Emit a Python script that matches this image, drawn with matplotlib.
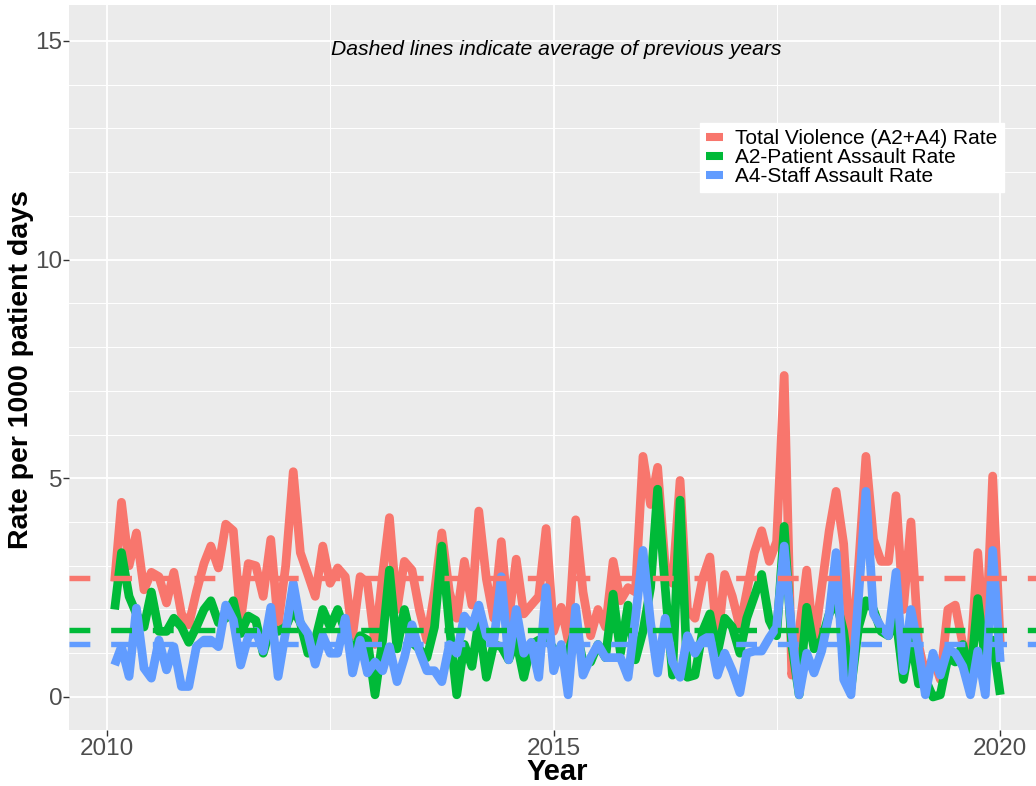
import numpy as np
import pandas as pd
import matplotlib
matplotlib.use("Agg")
import matplotlib.pyplot as plt
from matplotlib.lines import Line2D

plt.rcParams['font.family'] = ['Liberation Sans', 'DejaVu Sans']
plt.rcParams['lines.scale_dashes'] = False

# monthly reporting periods, Jan 2010 .. Dec 2019 (month ends)
dates = pd.date_range('2010-01-31', periods=120, freq='ME')
year_frac = dates.year + dates.dayofyear / (365 + dates.is_leap_year)

total_rate = [
    2.64, 4.45, 3.0, 3.75, 2.45, 2.85, 2.75, 2.15, 2.85, 1.9,
    1.65, 2.4, 3.05, 3.45, 2.95, 3.95, 3.8, 1.75, 3.05, 3.0,
    2.3, 3.6, 1.65, 3.0, 5.15, 3.3, 2.8, 2.3, 3.45, 2.6,
    2.95, 2.75, 1.4, 2.75, 2.6, 1.2, 2.8, 4.1, 2.0, 3.1,
    2.9, 2.0, 1.3, 2.4, 3.75, 2.4, 1.8, 3.1, 2.1, 4.25,
    2.7, 1.8, 3.55, 1.75, 3.15, 1.9, 2.1, 2.3, 3.85, 1.5,
    2.05, 1.3, 4.05, 2.4, 1.4, 2.0, 1.6, 3.1, 2.2, 2.5,
    2.4, 5.5, 4.4, 5.25, 3.0, 2.6, 4.95, 2.0, 1.8, 2.7,
    3.2, 1.2, 2.8, 2.3, 1.6, 2.4, 3.3, 3.8, 3.1, 3.55,
    7.35, 0.5, 1.5, 2.9, 1.2, 2.5, 3.8, 4.7, 3.5, 0.8,
    3.0, 5.5, 3.6, 3.1, 3.1, 4.6, 2.0, 4.0, 1.2, 0.5,
    0.9, 0.4, 2.0, 2.1, 1.2, 0.9, 3.3, 1.0, 5.05, 1.2,
]
patient_rate = [
    2.0, 3.3, 2.3, 1.9, 1.6, 2.4, 1.5, 1.5, 1.8, 1.6,
    1.25, 1.6, 2.0, 2.2, 1.7, 1.8, 2.2, 1.45, 1.85, 1.75,
    1.0, 1.6, 1.5, 1.6, 2.0, 1.7, 1.0, 1.3, 2.0, 1.6,
    2.0, 1.5, 1.0, 1.4, 1.3, 0.05, 1.3, 2.9, 1.1, 2.0,
    1.25, 1.1, 0.9, 1.6, 3.45, 1.6, 0.05, 1.2, 0.7, 1.75,
    0.45, 1.2, 1.15, 0.85, 1.3, 0.45, 1.2, 1.3, 1.35, 1.1,
    0.9, 1.0, 1.6, 0.8, 0.8, 1.2, 0.9, 2.35, 1.0, 2.1,
    0.85, 1.5, 2.5, 4.75, 2.5, 0.5, 4.5, 0.45, 0.5, 1.5,
    1.9, 1.0, 1.8, 1.6, 1.0, 1.8, 2.3, 2.8, 1.75, 1.4,
    3.9, 1.2, 0.05, 2.05, 1.1, 1.3, 1.9, 2.2, 1.5, 0.2,
    1.6, 2.2, 2.0, 1.5, 1.4, 1.8, 0.4, 1.4, 0.3, 0.4,
    0.0, 0.05, 0.9, 0.8, 1.2, 0.4, 2.25, 0.8, 1.3, 0.05,
]
staff_rate = [
    0.73, 1.15, 0.47, 2.03, 0.66, 0.43, 1.3, 0.62, 1.15, 0.24,
    0.24, 1.15, 1.3, 1.3, 1.15, 2.1, 1.76, 0.73, 1.38, 1.5,
    1.05, 2.05, 0.47, 1.5, 2.6, 1.7, 1.45, 0.75, 1.4, 1.0,
    1.0, 1.8, 0.55, 1.3, 0.55, 0.8, 0.6, 1.15, 0.35, 0.9,
    1.65, 1.05, 0.6, 0.6, 0.35, 1.2, 1.0, 1.85, 1.6, 2.1,
    1.4, 1.25, 2.75, 0.85, 2.0, 1.0, 1.25, 0.45, 2.5, 0.6,
    1.2, 0.05, 2.05, 0.5, 0.9, 1.2, 0.9, 0.9, 0.9, 0.45,
    1.8, 3.35, 1.7, 0.55, 1.8, 0.8, 0.45, 1.4, 1.0, 1.3,
    1.4, 0.5, 1.0, 0.6, 0.1, 1.0, 1.05, 1.05, 1.35, 1.6,
    3.45, 1.5, 0.05, 1.0, 0.55, 1.05, 1.9, 3.3, 0.4, 0.05,
    2.3, 4.7, 1.9, 1.6, 1.4, 2.85, 0.6, 2.0, 1.1, 0.05,
    1.0, 0.5, 1.1, 1.0, 0.7, 0.05, 1.05, 0.05, 3.35, 0.8,
]

# averages of previous years (dashed lines)
avg_total = 2.72
avg_patient = 1.53
avg_staff = 1.2

labels = ['Total Violence (A2+A4) Rate', 'A2-Patient Assault Rate', 'A4-Staff Assault Rate']
colors = ['#F8766D', '#00BA38', '#619CFF']

fig = plt.figure(figsize=(10.36, 7.86), dpi=100)
ax = fig.add_axes([69 / 1036, 56 / 786, 967 / 1036, 725 / 786])
ax.set_facecolor('#EBEBEB')
for s in ax.spines.values():
    s.set_visible(False)

for vals, c in zip([total_rate, patient_rate, staff_rate], colors):
    ax.plot(year_frac, vals, color=c, lw=6.3, solid_joinstyle='round', solid_capstyle='butt', zorder=3)

for avg, c in zip([avg_total, avg_patient, avg_staff], colors):
    ax.axhline(avg, color=c, lw=3.9, dashes=(15, 15), zorder=4)

ax.set_xlim(2009.574, 2020.40)
ax.set_ylim(-0.755, 15.82)
ax.set_xticks([2010, 2015, 2020])
ax.set_xticks([2012.5, 2017.5], minor=True)
ax.set_yticks([0, 5, 10, 15])
ax.set_yticks(np.arange(1, 16), minor=True)
ax.grid(which='major', color='white', lw=1.3, zorder=0)
ax.grid(which='minor', color='white', lw=0.7, zorder=0)
ax.set_axisbelow(True)
ax.tick_params(which='major', length=4, width=1, color='#333333', labelsize=17.5, labelcolor='#4D4D4D', pad=1.5)
ax.tick_params(axis='y', which='major', pad=0.8)
ax.tick_params(which='minor', length=0)

fig.text(21 / 1036, 1 - 370 / 786, 'Rate per 1000 patient days', rotation=90,
         ha='center', va='center', fontsize=20.5, fontweight='bold')
fig.text(557 / 1036, 1 - 772 / 786, 'Year', ha='center', va='center', fontsize=21, fontweight='bold')

ax.text(0.5036, 0.938, 'Dashed lines indicate average of previous years', transform=ax.transAxes,
        ha='center', va='center', fontsize=15.2, style='italic')

handles = [Line2D([], [], color=c, lw=5.8, solid_capstyle='butt') for c in colors]
leg = ax.legend(handles, labels, loc='upper left', bbox_to_anchor=(0.6525, 0.8373), borderaxespad=0,
                fontsize=15, frameon=True, fancybox=False, framealpha=1, edgecolor='white',
                borderpad=0.3, labelspacing=0.0, handlelength=0.8, handletextpad=0.6)
leg.get_frame().set_facecolor('white')

fig.savefig('out.png', dpi=100)
